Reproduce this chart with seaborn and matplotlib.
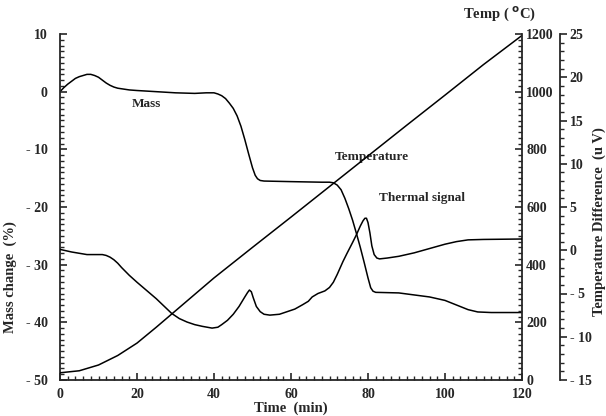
import numpy as np
import pandas as pd
import seaborn as sns
import matplotlib
matplotlib.use("Agg")
import matplotlib.pyplot as plt
from matplotlib.ticker import MultipleLocator, FixedLocator, FuncFormatter

# ---- data ----
mass_t = [0, 1, 2, 3, 4, 5, 6, 7, 8, 9, 10, 11, 12, 13, 14, 15, 16, 18, 20, 25, 30, 35, 38,
          40, 41, 42, 43, 44, 45, 46, 47, 48, 49, 50, 50.7, 51.3, 52, 53, 60, 68, 70, 71,
          72, 73, 74, 75, 76, 77, 78, 79, 80, 80.7, 81.3, 82, 88, 96, 100, 103, 106, 108.5,
          112, 120]
mass_v = [0, 0.7, 1.3, 1.8, 2.3, 2.6, 2.8, 3.0, 3.0, 2.8, 2.5, 2.0, 1.5, 1.1, 0.8, 0.6, 0.5,
          0.3, 0.2, 0.0, -0.2, -0.3, -0.2, -0.2, -0.4, -0.7, -1.2, -2.0, -2.9, -4.2, -6.0,
          -8.3, -10.8, -13.2, -14.5, -15.1, -15.4, -15.5, -15.6, -15.7, -15.7, -15.8, -16.2,
          -17.0, -18.5, -20.3, -22.3, -24.6, -27.0, -29.6, -32.3, -34.0, -34.6, -34.8, -34.9,
          -35.6, -36.2, -37.0, -37.8, -38.2, -38.3, -38.3]

temp_t = [0, 5, 10, 15, 20, 25, 30, 35, 40, 50, 60, 70, 80, 90, 100, 110, 120]
temp_v = [25, 32, 52, 85, 128, 183, 240, 297, 354, 460, 565, 671, 777, 883, 988, 1094, 1195]

therm_t = [0, 3, 7, 11, 12, 13, 14, 15, 16, 18, 20, 25, 29, 31, 33, 35, 37, 39.5, 41, 42, 43.5,
           45, 46.5, 48, 48.7, 49.2, 49.7, 50.2, 51, 52, 53, 54.5, 57, 59, 61, 63, 64.5, 65.5,
           67, 68.8, 70, 71, 72, 73.5, 74.5, 76, 77, 78, 78.7, 79.2, 79.6, 80, 80.5, 81, 81.6,
           82.3, 83, 85, 88, 92, 96, 100, 103, 106, 110, 120]
therm_v = [0.1, -0.2, -0.5, -0.5, -0.6, -0.8, -1.1, -1.5, -2.0, -2.9, -3.7, -5.6, -7.3, -7.9,
           -8.3, -8.6, -8.8, -9.0, -8.9, -8.6, -8.1, -7.4, -6.5, -5.4, -4.9, -4.6, -4.8, -5.5,
           -6.5, -7.1, -7.4, -7.5, -7.4, -7.1, -6.8, -6.3, -5.9, -5.4, -5.0, -4.7, -4.3, -3.7,
           -2.8, -1.3, -0.4, 0.9, 1.8, 2.8, 3.4, 3.7, 3.7, 3.2, 2.0, 0.5, -0.5, -0.9, -1.0,
           -0.9, -0.7, -0.3, 0.2, 0.7, 1.0, 1.2, 1.25, 1.3]

left_ticks = [10, 0, -10, -20, -30, -40, -50]
temp_ticks = [0, 200, 400, 600, 800, 1000, 1200]
uv_ticks = [25, 20, 15, 10, 5, 0, -5, -10, -15]
time_ticks = [0, 20, 40, 60, 80, 100, 120]

# ---- style ----
sns.set_style("ticks")
plt.rcParams['font.family'] = ['Liberation Serif', 'DejaVu Serif']
plt.rcParams['font.weight'] = 'bold'
plt.rcParams['axes.labelweight'] = 'bold'
plt.rcParams['mathtext.default'] = 'bf'

fig = plt.figure(figsize=(6.06, 4.16), dpi=100)
ax = fig.add_axes([60/606, 36/416, 462/606, 346/416])
ax2 = ax.twinx()
ax3 = ax.twinx()

lw = 1.1
sns.lineplot(data=pd.DataFrame({"t": mass_t, "v": mass_v}), x="t", y="v", ax=ax,
             color="black", lw=lw, sort=False, estimator=None)
sns.lineplot(data=pd.DataFrame({"t": temp_t, "v": temp_v}), x="t", y="v", ax=ax2,
             color="black", lw=lw, sort=False, estimator=None)
sns.lineplot(data=pd.DataFrame({"t": therm_t, "v": therm_v}), x="t", y="v", ax=ax3,
             color="black", lw=lw, sort=False, estimator=None)

ax.set_xlim(0, 120)
ax.set_ylim(-50, 10)
ax2.set_ylim(0, 1200)
ax3.set_ylim(-15, 25)

def dash_fmt(v, pos):
    v = int(round(v))
    return f"- {abs(v)}" if v < 0 else f"{v}"

fs = 10
ax.xaxis.set_major_locator(FixedLocator(time_ticks))
ax.xaxis.set_minor_locator(MultipleLocator(2))
ax.yaxis.set_major_locator(FixedLocator(left_ticks))
ax.yaxis.set_minor_locator(MultipleLocator(1))
ax.yaxis.set_major_formatter(FuncFormatter(dash_fmt))
ax.tick_params(axis='both', which='major', direction='in', length=5, width=1.2,
               labelsize=fs, pad=6)
ax.tick_params(axis='both', which='minor', direction='in', length=3, width=1.0)
ax.tick_params(axis='y', pad=9)

ax2.yaxis.set_major_locator(FixedLocator(temp_ticks))
ax2.yaxis.set_minor_locator(MultipleLocator(20))
ax2.tick_params(axis='y', which='major', direction='in', length=5, width=1.2,
                labelsize=fs, pad=3)
ax2.tick_params(axis='y', which='minor', direction='in', length=3, width=1.0)

ax3.spines['right'].set_position(('axes', 1.082))
ax3.yaxis.set_major_locator(FixedLocator(uv_ticks))
ax3.yaxis.set_minor_locator(MultipleLocator(1))
ax3.yaxis.set_major_formatter(FuncFormatter(dash_fmt))
ax3.tick_params(axis='y', which='major', direction='out', length=5, width=1.2,
                labelsize=fs, pad=2)
ax3.tick_params(axis='y', which='minor', direction='out', length=3, width=1.0)

for a in (ax, ax2, ax3):
    a.spines['top'].set_visible(False)
    for s in a.spines.values():
        s.set_linewidth(1.3)
    for lab in a.get_yticklabels() + a.get_xticklabels():
        lab.set_fontweight('bold')
ax.spines['right'].set_visible(False)
ax2.spines['left'].set_visible(False)
ax3.spines['left'].set_visible(False)
ax2.spines['bottom'].set_visible(False)
ax3.spines['bottom'].set_visible(False)

ax.set_xlabel("Time  (min)", fontsize=10.5, fontweight='bold', labelpad=0)
ax.set_ylabel("Mass change  (%)", fontsize=10.5, fontweight='bold')
ax.yaxis.set_label_coords((17 - 60) / 462, (380 - 277) / 346)
ax2.set_ylabel("")
ax3.set_ylabel("Temperature Difference  (u V)", fontsize=10.5, fontweight='bold')
ax3.yaxis.set_label_coords((593 - 60) / 462, (380 - 222) / 346)

fig.text(500/606, 1 - 14/416, "Temp ( $^{o}$C)", ha='center', va='center',
         fontsize=10.5, fontweight='bold')

ax.text(22.5, -2.2, "Mass", fontsize=9.5, fontweight='bold', ha='center', va='center')
ax.text(81, -11.3, "Temperature", fontsize=9.5, fontweight='bold', ha='center', va='center')
ax.text(94, -18.5, "Thermal signal", fontsize=9.5, fontweight='bold', ha='center', va='center')

fig.savefig("out.png", dpi=100)
